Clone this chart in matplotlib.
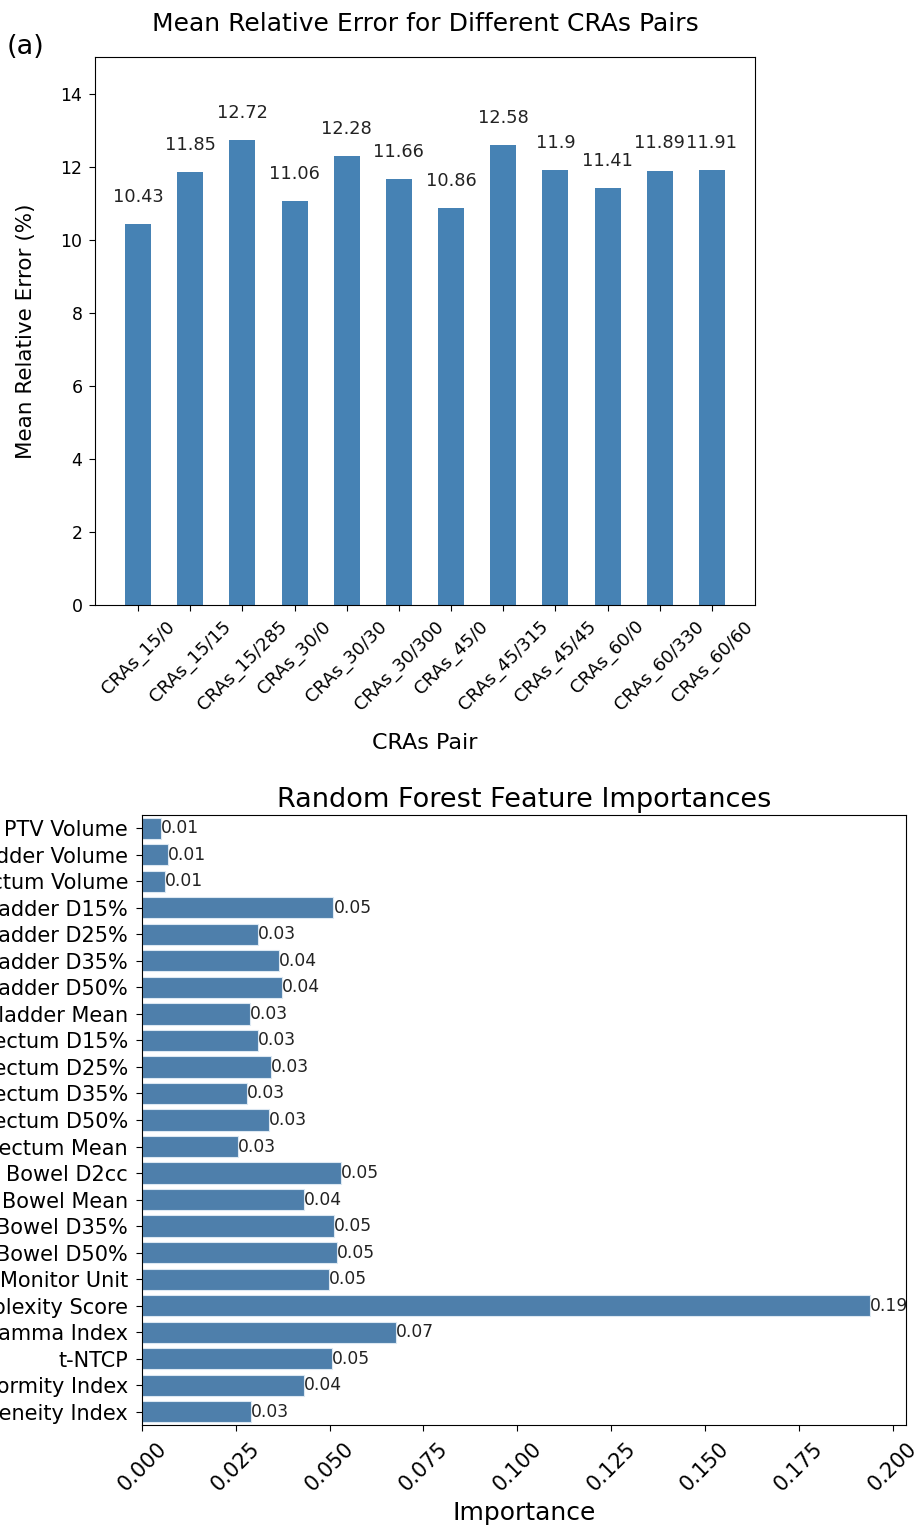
import matplotlib
matplotlib.use("Agg")
import matplotlib.pyplot as plt

# ---- data ----
cras_pairs = ["CRAs_15/0", "CRAs_15/15", "CRAs_15/285", "CRAs_30/0", "CRAs_30/30",
              "CRAs_30/300", "CRAs_45/0", "CRAs_45/315", "CRAs_45/45", "CRAs_60/0",
              "CRAs_60/330", "CRAs_60/60"]
mean_rel_error = [10.43, 11.85, 12.72, 11.06, 12.28, 11.66, 10.86, 12.58, 11.9, 11.41, 11.89, 11.91]

features = ["PTV Volume", "Bladder Volume", "Rectum Volume", "Bladder D15%", "Bladder D25%",
            "Bladder D35%", "Bladder D50%", "Bladder Mean", "Rectum D15%", "Rectum D25%",
            "Rectum D35%", "Rectum D50%", "Rectum Mean", "Bowel D2cc", "Bowel Mean",
            "Bowel D35%", "Bowel D50%", "Monitor Unit", "Complexity Score", "Gamma Index",
            "t-NTCP", "Conformity Index", "Homogeneity Index"]
importances = [0.005, 0.007, 0.006, 0.051, 0.031, 0.0365, 0.0373, 0.0288, 0.031, 0.0344,
               0.028, 0.0339, 0.0256, 0.053, 0.0432, 0.0512, 0.052, 0.0499, 0.1939, 0.0677,
               0.0507, 0.0432, 0.029]
xticks_imp = [0, 0.025, 0.05, 0.075, 0.1, 0.125, 0.15, 0.175, 0.2]

W, H = 914, 1530
plt.rcParams['font.family'] = ['DejaVu Sans']
fig = plt.figure(figsize=(W / 100, H / 100), dpi=100)

# ---- top panel ----
ax1 = fig.add_axes([95 / W, 1 - 605 / H, 660 / W, 548 / H])
x = list(range(len(cras_pairs)))
ax1.bar(x, mean_rel_error, width=0.5, color='steelblue')
for i, v in enumerate(mean_rel_error):
    ax1.text(i, v + 0.5, str(v), ha='center', va='bottom', fontsize=12.8, color='#222222')
ax1.set_ylim(0, 15)
ax1.set_xticks(x)
ax1.set_xticklabels(cras_pairs, rotation=45, ha='center', fontsize=13)
ax1.tick_params(axis='y', labelsize=12.5)
ax1.tick_params(length=4.5, pad=4.5)
ax1.set_ylabel('Mean Relative Error (%)', fontsize=15.5)
ax1.yaxis.set_label_coords(-0.089, 0.5)
ax1.set_xlabel('CRAs Pair', fontsize=16)
ax1.xaxis.set_label_coords(0.5, -0.233)
ax1.set_title('Mean Relative Error for Different CRAs Pairs', fontsize=18, pad=19)
fig.text(7 / W, 1 - 47 / H, '(a)', fontsize=19.5, va='center', ha='left')

# ---- bottom panel ----
ax2 = fig.add_axes([142 / W, 1 - 1425 / H, 764 / W, 610 / H])
y = list(range(len(features)))
ax2.barh(y, importances, height=0.8, color='#4e7fab', edgecolor='#dce8f2', linewidth=0.8)
for i, v in enumerate(importances):
    ax2.text(v, i, f"{v:.2f}", ha='left', va='center', fontsize=12.3, color='#222222')
ax2.set_ylim(len(features) - 0.5, -0.5)
ax2.set_xlim(0, max(importances) * 1.05)
ax2.set_yticks(y)
ax2.set_yticklabels(features, fontsize=15)
ax2.set_xticks(xticks_imp)
ax2.set_xticklabels([f"{t:.3f}" for t in xticks_imp], rotation=45, ha='center', fontsize=15)
ax2.tick_params(length=4.5, pad=5.5)
ax2.set_xlabel('Importance', fontsize=18)
ax2.set_title('Random Forest Feature Importances', fontsize=19.5)

fig.savefig('out.png', dpi=100)
